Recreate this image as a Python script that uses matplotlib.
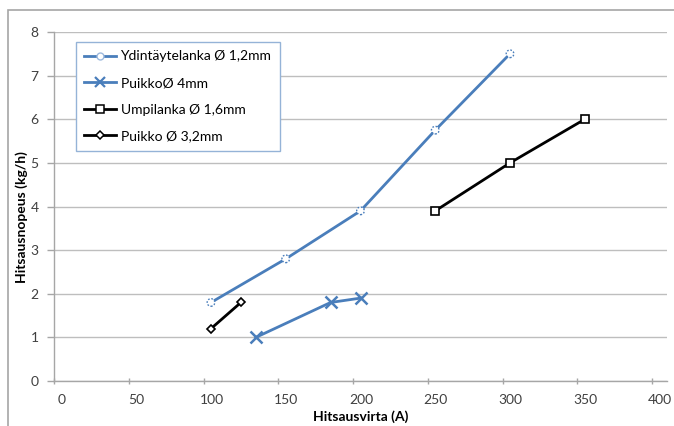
import matplotlib
matplotlib.use("Agg")
import matplotlib.pyplot as plt
import matplotlib.transforms as mtransforms
from matplotlib.patches import Rectangle
from matplotlib.lines import Line2D

plt.rcParams['font.family'] = ['Lato', 'DejaVu Sans']

# Welding current (A) vs. deposition rate (kg/h)
ydin_x = [105, 155, 205, 255, 305]
ydin_y = [1.8, 2.8, 3.9, 5.75, 7.5]

puikko4_x = [135, 185, 205]
puikko4_y = [1.0, 1.8, 1.9]

umpi_x = [255, 305, 355]
umpi_y = [3.9, 5.0, 6.0]

puikko32_x = [105, 125]
puikko32_y = [1.2, 1.8]

labels = ["Ydintäytelanka Ø 1,2mm", "PuikkoØ 4mm", "Umpilanka Ø 1,6mm", "Puikko Ø 3,2mm"]
x_ticks = [0, 50, 100, 150, 200, 250, 300, 350, 400]
y_ticks = [0, 1, 2, 3, 4, 5, 6, 7, 8]

BLUE = "#4A7EBB"
GRID = "#BEBEBE"

fig = plt.figure(figsize=(6.74, 4.26), dpi=100)
fig.patch.set_facecolor("white")
# chart frame
fig.add_artist(Rectangle((8 / 674, -0.05), 2.0, 1.0 - 10 / 426 + 0.05,
                         transform=fig.transFigure, fill=False,
                         edgecolor="#A6A6A6", linewidth=1.2))

ax = fig.add_axes([54 / 674, 1 - 381 / 426, 613 / 674, 349 / 426])

# Ydintäytelanka: line plus dotted-edge circles
ax.plot(ydin_x, ydin_y, color=BLUE, lw=2.0, zorder=3)
ax.scatter(ydin_x, ydin_y, s=30, facecolor="white", edgecolor=BLUE,
           linewidths=1.0, linestyle=(0, (1.2, 1.2)), zorder=4)

ax.plot(puikko4_x, puikko4_y, color=BLUE, lw=2.0, marker="x",
        markersize=9, markeredgewidth=1.8, zorder=3)
ax.plot(umpi_x, umpi_y, color="black", lw=2.0, marker="s", markersize=6,
        markerfacecolor="white", markeredgecolor="black",
        markeredgewidth=1.2, zorder=3)
ax.plot(puikko32_x, puikko32_y, color="black", lw=2.0, marker="D",
        markersize=4.5, markerfacecolor="white", markeredgecolor="black",
        markeredgewidth=1.2, zorder=3)

ax.set_xlim(0, 410)
ax.set_ylim(0, 8)
ax.set_xticks(x_ticks)
ax.set_yticks(y_ticks)
ax.set_xticklabels([str(v) for v in x_ticks])
ax.set_yticklabels([str(v) for v in y_ticks])

ax.yaxis.grid(True, color=GRID, lw=1.0)
ax.set_axisbelow(True)
for side in ("top", "right"):
    ax.spines[side].set_visible(False)
for side in ("left", "bottom"):
    ax.spines[side].set_color("#A6A6A6")
    ax.spines[side].set_linewidth(1.0)
ax.tick_params(axis="both", colors="#A6A6A6", labelcolor="#404040",
               labelsize=10, length=5, width=1.0)
ax.tick_params(axis="x", direction="inout", pad=7)
ax.tick_params(axis="y", direction="out", pad=6)

# category-style label placement: x labels sit slightly right of their ticks
shift = mtransforms.ScaledTranslation(8 / 100, 0, fig.dpi_scale_trans)
for lbl in ax.get_xticklabels():
    lbl.set_transform(lbl.get_transform() + shift)

ax.set_xlabel("Hitsausvirta (A)", fontsize=10, fontweight="bold", color="#000000")
ax.xaxis.set_label_coords(0.5, -0.083)
ax.set_ylabel("Hitsausnopeus (kg/h)", fontsize=10, fontweight="bold", color="#000000")
ax.yaxis.set_label_coords(-0.042, 0.47)

handles = [
    Line2D([], [], color=BLUE, lw=2.0, marker="o", markersize=5,
           markerfacecolor="white", markeredgecolor="#9DB9DD", markeredgewidth=1.0),
    Line2D([], [], color=BLUE, lw=2.0, marker="x", markersize=7,
           markeredgewidth=1.6),
    Line2D([], [], color="black", lw=2.0, marker="s", markersize=5.5,
           markerfacecolor="white", markeredgewidth=1.1),
    Line2D([], [], color="black", lw=2.0, marker="D", markersize=4,
           markerfacecolor="white", markeredgewidth=1.1),
]
leg = ax.legend(handles, labels, loc="upper left",
                bbox_to_anchor=(0.036, 0.971), fontsize=10,
                frameon=True, fancybox=False, framealpha=1.0,
                edgecolor="#95B3D7", handlelength=2.3, handletextpad=0.3,
                labelspacing=1.05, borderpad=0.6, borderaxespad=0.0)
leg.get_frame().set_linewidth(1.0)

fig.savefig("out.png", dpi=100, facecolor="white")
